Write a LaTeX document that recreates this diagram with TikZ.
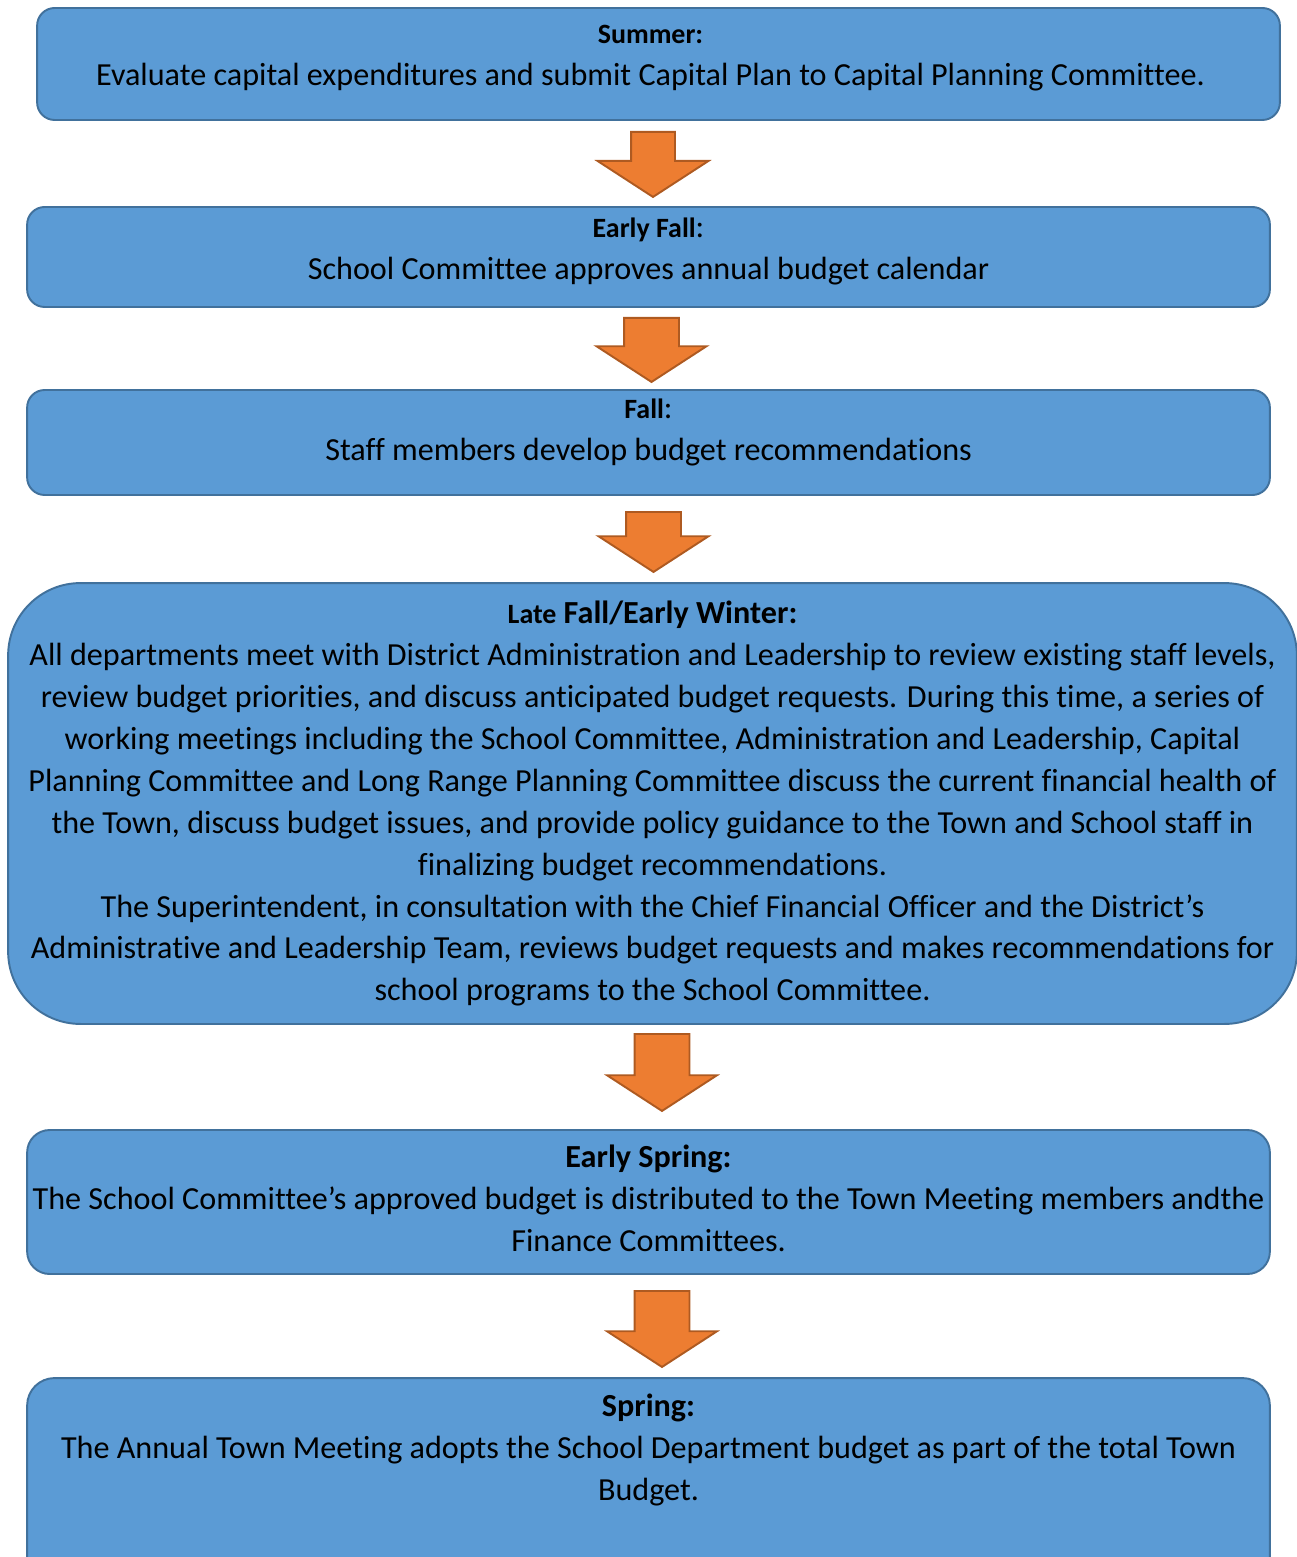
\documentclass[tikz,border=0pt]{standalone}
\usepackage{fontspec}
\setmainfont{Carlito}[Ligatures=CommonOff]
\usetikzlibrary{shapes.arrows}
\definecolor{stagefill}{HTML}{5B9BD5}
\definecolor{stageline}{HTML}{41719C}
\definecolor{arrowfill}{HTML}{ED7D31}
\definecolor{arrowline}{HTML}{AE5A21}
\newcommand{\smallhead}[1]{{\fontsize{15.9pt}{23.9pt}\selectfont\bfseries #1}}
\tikzset{
  stage/.style={draw=stageline, fill=stagefill, line width=1.1pt, rectangle, rounded corners=0.35cm,
    minimum width=24.86cm, align=center, inner sep=0pt, font=\fontsize{18.3pt}{23.9pt}\selectfont},
  flowarrow/.style={draw=arrowline, fill=arrowfill, line width=1.1pt, single arrow, rotate=-90,
    anchor=tail, inner xsep=0pt, inner ysep=0.53cm, single arrow head extend=0.55cm,
    single arrow tip angle=114}
}

\begin{document}
\begin{tikzpicture}[x=0.02cm, y=-0.02cm]
  \useasboundingbox (0,0) rectangle (1296,1557);

  \node[stage, minimum height=2.24cm, text depth=9.5pt] (summer) at (658.5,64)
    {\smallhead{Summer:}\hspace*{0.32cm}\\Evaluate capital expenditures and submit Capital Plan to Capital Planning Committee.\hspace*{0.32cm}};
  \node[stage, minimum height=2.0cm, text depth=8.9pt] (earlyfall) at (648.5,257)
    {\smallhead{Early Fall}:\\School Committee approves annual budget calendar};
  \node[stage, minimum height=2.1cm, text depth=14.6pt] (fall) at (648.5,442.5)
    {\smallhead{Fall}:\\Staff members develop budget recommendations};
  \node[stage, minimum width=25.78cm, minimum height=8.82cm, rounded corners=1.45cm] (latefall) at (652.5,803.5)
    {\smallhead{Late} \textbf{Fall/Early Winter:}\\
     All departments meet with District Administration and Leadership to review existing staff levels,\\
     review budget priorities, and discuss anticipated budget requests. During this time, a series of\\
     working meetings including the School Committee, Administration and Leadership, Capital\\
     Planning Committee and Long Range Planning Committee discuss the current financial health of\\
     the Town, discuss budget issues, and provide policy guidance to the Town and School staff in\\
     finalizing budget recommendations.\\
     The Superintendent, in consultation with the Chief Financial Officer and the District’s\\
     Administrative and Leadership Team, reviews budget requests and makes recommendations for\\
     school programs to the School Committee.};
  \node[stage, minimum height=2.88cm, rounded corners=0.45cm, text depth=4pt] (earlyspring) at (648.5,1202)
    {\textbf{Early Spring:}\\
     The School Committee’s approved budget is distributed to the Town Meeting members andthe\\
     Finance Committees.};
  \node[stage, minimum height=4.44cm, rounded corners=0.55cm] (spring) at (648.5,1489)
    {\textbf{Spring:}\\
     The Annual Town Meeting adopts the School Department budget as part of the total Town\\
     Budget.\\ \mbox{}\\ \mbox{}};

  \node[flowarrow, inner ysep=0.42cm, single arrow head extend=0.67cm, minimum height=1.3cm] (a1) at (653,131) {};
  \node[flowarrow, minimum height=1.28cm] (a2) at (651.5,317) {};
  \node[flowarrow, minimum height=1.2cm] (a3) at (653.5,511) {};
  \node[flowarrow, minimum height=1.54cm] (a4) at (662,1033) {};
  \node[flowarrow, minimum height=1.52cm] (a5) at (662,1290) {};
\end{tikzpicture}
\end{document}
